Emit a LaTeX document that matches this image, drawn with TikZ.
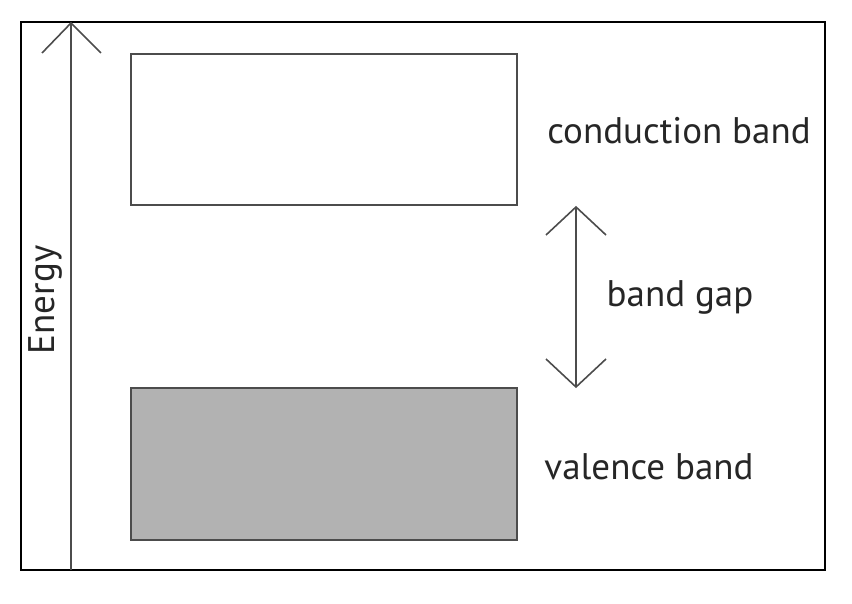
\documentclass[tikz,border=0pt]{standalone}
\usepackage{fontspec}
\setmainfont{PT Sans}
\begin{document}
\begin{tikzpicture}[x=1pt,y=-1pt,
  band/.style={draw=black!70,line width=1.8pt},
  axis/.style={draw=black!70,line width=1.6pt},
  lbl/.style={font=\fontsize{37}{44}\selectfont,text=black!85,inner sep=0pt}]
\useasboundingbox (0,0) rectangle (852,604);
\draw[black,line width=1.4pt] (21,22) rectangle (825,570);
% energy axis
\coordinate (ab) at (71,570);
\coordinate (at) at (71,23);
\draw[axis] (ab) -- (at);
\draw[axis] (42,53) -- (at) -- (101,53);
\node[lbl,rotate=90] (energy) at (45,300) {Energy};
% bands
\node[band,fill=white,minimum width=386pt,minimum height=151pt,inner sep=0pt] (cb) at (324,129.5) {};
\node[band,fill=black!30,minimum width=386pt,minimum height=152pt,inner sep=0pt] (vb) at (324,464) {};
% band gap arrow
\coordinate (gt) at (576,207);
\coordinate (gb) at (576,387);
\draw[axis] (gt) -- (gb);
\draw[axis] (546,235) -- (gt) -- (606,235);
\draw[axis] (546,359) -- (gb) -- (606,359);
\node[lbl] (cbl) at (679,131) {conduction band};
\node[lbl] (bgl) at (680,297) {band gap};
\node[lbl] (vbl) at (649,467) {valence band};
\end{tikzpicture}
\end{document}
